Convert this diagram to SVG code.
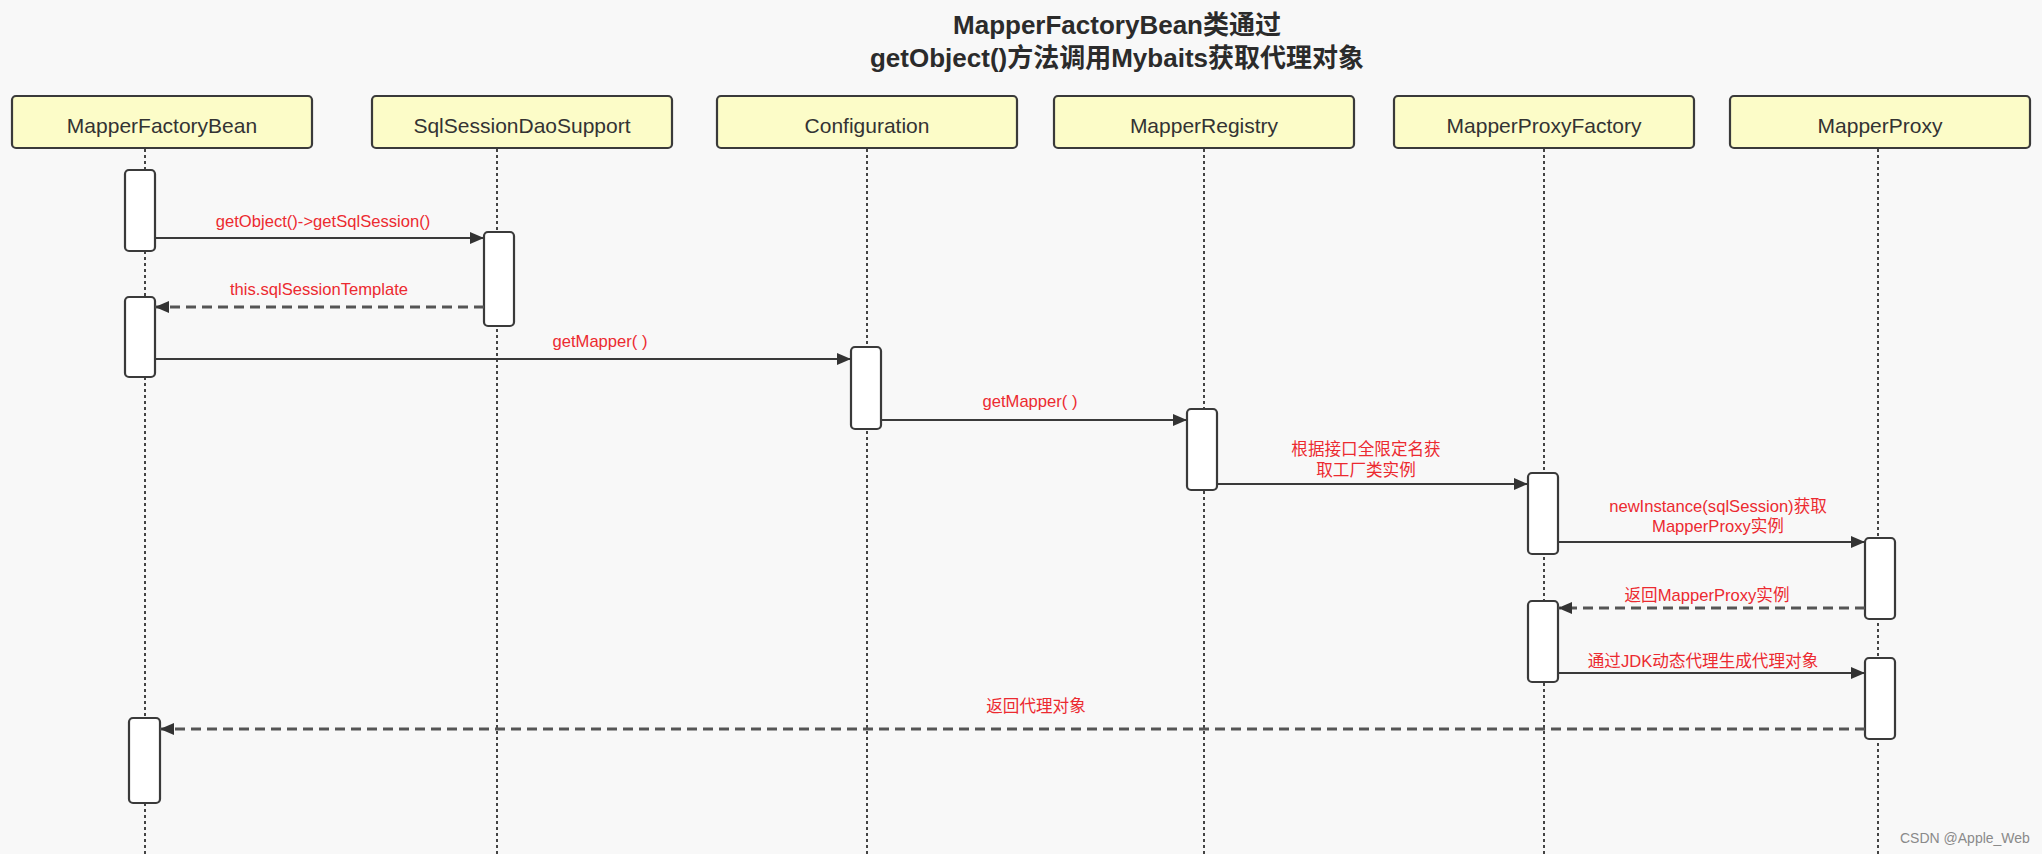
<svg xmlns="http://www.w3.org/2000/svg" width="2042" height="854" viewBox="0 0 2042 854">
<style>
.bg{fill:#f8f8f8}
.box{fill:#fcfcc8;stroke:#3a3a3a;stroke-width:2.2}
.bt{font-family:"Liberation Sans","Noto Sans CJK SC",sans-serif;font-size:21px;fill:#333;text-anchor:middle}
.title{font-family:"Liberation Sans","Noto Sans CJK SC",sans-serif;font-size:26px;font-weight:bold;fill:#2b2b2b;text-anchor:middle}
.life{stroke:#444;stroke-width:2;stroke-dasharray:3 3;fill:none}
.act{fill:#fff;stroke:#3a3a3a;stroke-width:2.2}
.msg{stroke:#3a3a3a;stroke-width:2.2;fill:none}
.ret{stroke:#555;stroke-width:3;stroke-dasharray:10 6;fill:none}
.lbl{font-family:"Liberation Sans","Noto Sans CJK SC",sans-serif;font-size:16.6px;fill:#ec2a30;text-anchor:middle}
.wm{font-family:"Liberation Sans",sans-serif;font-size:14px;fill:#8a8a8a}
</style>
<defs>
<marker id="ah" markerUnits="userSpaceOnUse" markerWidth="14" markerHeight="12" refX="14" refY="6" orient="auto">
<path d="M0,0 L14,6 L0,12 z" fill="#333"/>
</marker>
</defs>
<rect class="bg" x="0" y="0" width="2042" height="854"/>
<g id="title">
<text class="title" x="1117" y="34">MapperFactoryBean类通过</text>
<text class="title" x="1117" y="67">getObject()方法调用Mybaits获取代理对象</text>
</g>
<g id="lifelines">
<line class="life" x1="145" y1="149" x2="145" y2="854"/>
<line class="life" x1="497" y1="149" x2="497" y2="854"/>
<line class="life" x1="867" y1="149" x2="867" y2="854"/>
<line class="life" x1="1204" y1="149" x2="1204" y2="854"/>
<line class="life" x1="1544" y1="149" x2="1544" y2="854"/>
<line class="life" x1="1878" y1="149" x2="1878" y2="854"/>
</g>
<g id="node-MapperFactoryBean">
<rect class="box" x="12" y="96" width="300" height="52" rx="4"/>
<text class="bt" x="162" y="133">MapperFactoryBean</text>
<rect class="act" x="125" y="170" width="30" height="81" rx="4"/>
<rect class="act" x="125" y="297" width="30" height="80" rx="4"/>
<rect class="act" x="129" y="718" width="31" height="85" rx="4"/>
</g>
<g id="node-SqlSessionDaoSupport">
<rect class="box" x="372" y="96" width="300" height="52" rx="4"/>
<text class="bt" x="522" y="133">SqlSessionDaoSupport</text>
<rect class="act" x="484" y="232" width="30" height="94" rx="4"/>
</g>
<g id="node-Configuration">
<rect class="box" x="717" y="96" width="300" height="52" rx="4"/>
<text class="bt" x="867" y="133">Configuration</text>
<rect class="act" x="851" y="347" width="30" height="82" rx="4"/>
</g>
<g id="node-MapperRegistry">
<rect class="box" x="1054" y="96" width="300" height="52" rx="4"/>
<text class="bt" x="1204" y="133">MapperRegistry</text>
<rect class="act" x="1187" y="409" width="30" height="81" rx="4"/>
</g>
<g id="node-MapperProxyFactory">
<rect class="box" x="1394" y="96" width="300" height="52" rx="4"/>
<text class="bt" x="1544" y="133">MapperProxyFactory</text>
<rect class="act" x="1528" y="473" width="30" height="81" rx="4"/>
<rect class="act" x="1528" y="601" width="30" height="81" rx="4"/>
</g>
<g id="node-MapperProxy">
<rect class="box" x="1730" y="96" width="300" height="52" rx="4"/>
<text class="bt" x="1880" y="133">MapperProxy</text>
<rect class="act" x="1865" y="538" width="30" height="81" rx="4"/>
<rect class="act" x="1865" y="658" width="30" height="81" rx="4"/>
</g>
<g id="connectors">
<line class="msg" x1="155" y1="238" x2="484" y2="238" marker-end="url(#ah)"/>
<text class="lbl" x="323" y="227">getObject()-&gt;getSqlSession()</text>
<line class="ret" x1="484" y1="307" x2="155" y2="307" marker-end="url(#ah)"/>
<text class="lbl" x="319" y="295">this.sqlSessionTemplate</text>
<line class="msg" x1="155" y1="359" x2="851" y2="359" marker-end="url(#ah)"/>
<text class="lbl" x="600" y="347">getMapper( )</text>
<line class="msg" x1="881" y1="420" x2="1187" y2="420" marker-end="url(#ah)"/>
<text class="lbl" x="1030" y="407">getMapper( )</text>
<line class="msg" x1="1217" y1="484" x2="1528" y2="484" marker-end="url(#ah)"/>
<text class="lbl" x="1366" y="455">根据接口全限定名获</text>
<text class="lbl" x="1366" y="476">取工厂类实例</text>
<line class="msg" x1="1558" y1="542" x2="1865" y2="542" marker-end="url(#ah)"/>
<text class="lbl" x="1718" y="512">newInstance(sqlSession)获取</text>
<text class="lbl" x="1718" y="532">MapperProxy实例</text>
<line class="ret" x1="1865" y1="608" x2="1558" y2="608" marker-end="url(#ah)"/>
<text class="lbl" x="1707" y="601">返回MapperProxy实例</text>
<line class="msg" x1="1558" y1="673" x2="1865" y2="673" marker-end="url(#ah)"/>
<text class="lbl" x="1703" y="667">通过JDK动态代理生成代理对象</text>
<line class="ret" x1="1865" y1="729" x2="160" y2="729" marker-end="url(#ah)"/>
<text class="lbl" x="1036" y="712">返回代理对象</text>
</g>
<text class="wm" x="1900" y="843">CSDN @Apple_Web</text>
</svg>
